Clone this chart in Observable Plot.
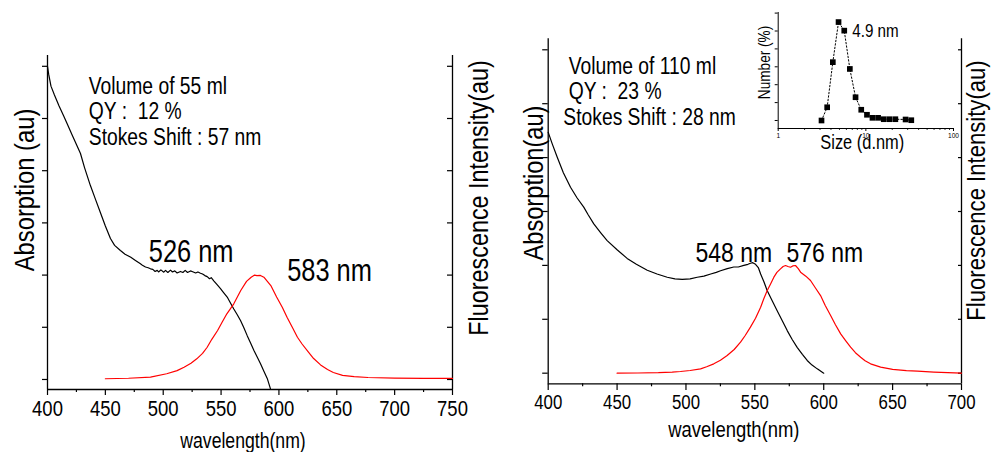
<!DOCTYPE html>
<html><head><meta charset="utf-8">
<script src="https://cdn.jsdelivr.net/npm/d3@7"></script>
<script src="https://cdn.jsdelivr.net/npm/@observablehq/plot@0.6"></script>
<style>
html,body{margin:0;padding:0;background:#fff;}
#chart{position:relative;width:991px;height:452px;overflow:hidden;background:#fff;}
#chart svg{position:absolute;overflow:visible;font-family:"Liberation Sans",Arial,sans-serif;}
#chart svg text{white-space:pre;}
</style></head><body><div id="chart"></div>
<script>
// ---------- data ----------
const wlTicksLeft = [400,450,500,550,600,650,700,750];
const wlMinorLeft = [425,475,525,575,625,675,725];
const wlTicksRight = [400,450,500,550,600,650,700];
const wlMinorRight = [425,475,525,575,625,675];
const absTicks = [0,0.1,0.2,0.3,0.4,0.5,0.6];
const fluTicks = [0,0.5,1,1.5,2,2.5,3];
const xTitle = "wavelength(nm)";
const absTitleLeft = "Absorption (au)";
const absTitleRight = "Absorption(au)";
const fluTitle = "Fluorescence Intensity(au)";
const notesLeft = ["Volume of 55 ml","QY :  12 %","Stokes Shift : 57 nm"];
const notesRight = [" Volume of 110 ml"," QY :  23 %","Stokes Shift : 28 nm"];
const peaksLeft = ["526 nm","583 nm"];
const peaksRight = ["548 nm","576 nm"];

// absorption, 55 ml  [wavelength nm, absorbance au]
const absLeft = [[400,0.600],[401,0.585],[403,0.562],[406,0.545],[410,0.524],[414,0.505],[417,0.490],[421,0.470],[425,0.450],[428.5,0.433],[432,0.406],[437,0.372],[441,0.348],[446,0.318],[450,0.294],[454.4,0.270],[458,0.257],[463,0.247],[467,0.240],[472,0.234],[476,0.228],[480,0.222],[482,0.219],[484.7,0.2155],[487,0.214],[489,0.212],[491,0.211],[493,0.207],[494.8,0.209],[496,0.206],[498,0.210],[500.5,0.2056],[502,0.209],[504,0.205],[506.3,0.2095],[508,0.206],[510,0.208],[512,0.204],[514.9,0.207],[517,0.205],[519,0.209],[521,0.205],[523.6,0.208],[526,0.206],[528,0.204],[530,0.206],[532.2,0.2036],[534,0.202],[536,0.199],[538,0.197],[540,0.193],[541.5,0.195],[543.7,0.189],[546,0.183],[549.5,0.174],[552,0.167],[555.3,0.158],[558,0.147],[561,0.135],[564,0.124],[566.8,0.113],[569.5,0.100],[572.6,0.084],[575.5,0.070],[578.3,0.056],[581,0.044],[584.1,0.030],[587,0.016],[589.9,0.002],[592.7,-0.018]];
// fluorescence, 55 ml  [wavelength nm, intensity au]
const fluLeft = [[450,0.007],[470,0.012],[489,0.022],[503,0.055],[512,0.085],[518,0.118],[524,0.155],[529,0.198],[534,0.25],[538,0.309],[542,0.385],[547,0.469],[551,0.55],[555,0.629],[561,0.725],[567,0.852],[572,0.94],[576,0.98],[579,1.0],[581,0.995],[584,0.997],[587,0.98],[590,0.94],[593,0.9],[598,0.79],[603,0.69],[607,0.597],[612,0.49],[616,0.405],[620,0.34],[625,0.27],[630,0.201],[636,0.14],[642,0.095],[647,0.067],[655,0.04],[665,0.027],[677,0.019],[700,0.014],[725,0.011],[750,0.01]];
// absorption, 110 ml
const absRight = [[400,0.447],[400.4,0.444],[403,0.425],[406.5,0.401],[411,0.372],[416.2,0.345],[421,0.325],[425.8,0.308],[429,0.294],[433.1,0.277],[438,0.261],[442.8,0.246],[450,0.229],[457.3,0.213],[464,0.202],[471.9,0.191],[479,0.184],[486.4,0.178],[492,0.175],[497.3,0.174],[503,0.175],[508.2,0.178],[513,0.180],[518,0.184],[522,0.187],[525.1,0.190],[530,0.194],[534.7,0.197],[538,0.197],[542,0.200],[545,0.202],[546.8,0.204],[548.5,0.205],[550.5,0.202],[552.5,0.196],[554.2,0.184],[556.5,0.170],[559,0.153],[562.5,0.135],[566.2,0.116],[570,0.097],[573.5,0.079],[577,0.063],[580.7,0.048],[584.5,0.035],[588,0.0236],[591.5,0.015],[595.3,0.008],[600,0.0]];
// fluorescence, 110 ml
const fluRight = [[450,0.0],[465,0.002],[480,0.005],[490,0.01],[496,0.016],[503,0.025],[510.6,0.04],[515,0.06],[520.2,0.087],[525,0.12],[529.9,0.164],[535,0.22],[539.6,0.288],[543,0.35],[546.8,0.427],[550.5,0.51],[554.2,0.612],[556.5,0.69],[559,0.767],[561.5,0.83],[563.8,0.891],[566,0.935],[568.6,0.968],[570.5,0.99],[572.3,0.999],[574,0.99],[575.9,0.983],[577.5,0.995],[579.5,0.999],[581.5,0.97],[583.2,0.937],[587,0.9],[590.4,0.86],[594,0.79],[597.7,0.72],[601,0.63],[605,0.535],[608.5,0.45],[612.3,0.365],[616,0.3],[619.5,0.241],[623,0.19],[626.8,0.148],[630,0.115],[634,0.087],[641.3,0.056],[650,0.035],[660,0.024],[668,0.019],[680,0.01],[690,0.005],[700,0.0]];
// inset: DLS size distribution
const dlsSize = [3.12,3.62,4.2,4.88,5.67,6.57,7.63,8.86,10.3,11.9,13.8,16.0,18.6,21.7,28.4,33.0];
const dlsNumber = [0,3.7,16.3,27.5,25.1,14.4,6.5,3.0,1.6,0.75,0.75,0.36,0.36,0.36,0.28,0.08];
const insetXTicks = [1,10,100];
const insetXMinor = [2,3,4,5,6,7,8,9,20,30,40,50,60,70,80,90];
const insetYTicks = [0,5,10,15,20,25,30];
const insetXTitle = "Size (d.nm)";
const insetYTitle = "Number (%)";
const insetPeak = "4.9 nm";

// ---------- drawing ----------
const FONT = '"Liberation Sans", Arial, sans-serif';
const chart = document.getElementById("chart");
const X = d => d[0], Y = d => d[1];
const baseStyle = {fontFamily: FONT, background: "transparent", overflow: "visible"};
function place(svg, left, top) {
  svg.style.position = "absolute"; svg.style.left = left + "px"; svg.style.top = top + "px";
  svg.style.maxWidth = "none";
  chart.appendChild(svg);
  return svg;
}

// Left panel
const LM = {width: 500, height: 452, marginLeft: 47, marginRight: 48, marginTop: 55, marginBottom: 63};
place(Plot.plot({
  ...LM, style: baseStyle,
  x: {domain: [400, 750], label: null},
  y: {domain: [-0.0192, 0.6207], label: null},
  marks: [
    Plot.axisX({ticks: wlTicksLeft, tickSize: 6, tickPadding: 5, fontSize: 22.5, label: null, strokeWidth: 1.2}),
    Plot.axisX({ticks: wlMinorLeft, tickSize: 3, tickFormat: () => "", label: null, strokeWidth: 1.2}),
    Plot.axisY({ticks: absTicks, tickSize: 5, tickFormat: () => "", label: null, strokeWidth: 1.2}),
    Plot.ruleX([400], {strokeWidth: 1.3}),
    Plot.ruleY([-0.0192], {strokeWidth: 1.3}),
    Plot.line(absLeft, {x: X, y: Y, stroke: "black", strokeWidth: 1.2}),
    Plot.text([notesLeft.join("\n")], {x: 435.7, y: 0.5824, textAnchor: "start", lineAnchor: "top", lineHeight: 1.09, fontSize: 23.5}),
    Plot.text([peaksLeft[0]], {x: 487.5, y: 0.2247, textAnchor: "start", lineAnchor: "bottom", fontSize: 31}),
    Plot.text([peaksLeft[1]], {x: 607.1, y: 0.1883, textAnchor: "start", lineAnchor: "bottom", fontSize: 31}),
    Plot.text([xTitle], {frameAnchor: "bottom", textAnchor: "middle", lineAnchor: "bottom", dx: -7, dy: 58.4, fontSize: 21.5}),
    Plot.text([absTitleLeft], {frameAnchor: "left", textAnchor: "middle", rotate: -90, dx: -22.5, dy: -32.5, fontSize: 28})
  ]
}), 0, 0);
place(Plot.plot({
  ...LM, style: baseStyle,
  x: {domain: [400, 750], axis: null},
  y: {domain: [-0.0958, 3.1034], axis: null},
  marks: [
    Plot.axisY({anchor: "right", ticks: fluTicks, tickSize: -6, tickFormat: () => "", label: null, strokeWidth: 1.2}),
    Plot.ruleX([750], {strokeWidth: 1.3}),
    Plot.line(fluLeft, {x: X, y: Y, stroke: "#ff0000", strokeWidth: 1.2}),
    Plot.text([fluTitle], {frameAnchor: "right", textAnchor: "middle", rotate: -90, dx: 26.3, dy: -24.5, fontSize: 27.5})
  ]
}), 0, 0);

// Right panel
const RM = {width: 491, height: 452, marginLeft: 47.7, marginRight: 30, marginTop: 38.3, marginBottom: 68.7};
place(Plot.plot({
  ...RM, style: baseStyle,
  x: {domain: [400, 700], label: null},
  y: {domain: [-0.0197, 0.6204], label: null},
  marks: [
    Plot.axisX({ticks: wlTicksRight, tickSize: 6.7, tickPadding: 4, fontSize: 20.5, label: null, strokeWidth: 1.2}),
    Plot.axisX({ticks: wlMinorRight, tickSize: 3, tickFormat: () => "", label: null, strokeWidth: 1.2}),
    Plot.axisY({ticks: absTicks, tickSize: 5.5, tickFormat: () => "", label: null, strokeWidth: 1.2}),
    Plot.ruleX([400], {strokeWidth: 1.3}),
    Plot.ruleY([-0.0197], {strokeWidth: 1.3}),
    Plot.line(absRight, {x: X, y: Y, stroke: "black", strokeWidth: 1.2}),
    Plot.text([notesRight.join("\n")], {x: 411.0, y: 0.5894, textAnchor: "start", lineAnchor: "top", lineHeight: 1.085, fontSize: 23.5}),
    Plot.text([peaksRight[0]], {x: 506.9, y: 0.206, textAnchor: "start", lineAnchor: "bottom", fontSize: 28}),
    Plot.text([peaksRight[1]], {x: 573, y: 0.206, textAnchor: "start", lineAnchor: "bottom", fontSize: 28}),
    Plot.text([xTitle], {frameAnchor: "bottom", textAnchor: "middle", lineAnchor: "bottom", dx: -21, dy: 53.1, fontSize: 22.5}),
    Plot.text([absTitleRight], {frameAnchor: "left", textAnchor: "middle", rotate: -90, dx: -14.6, dy: -28.3, fontSize: 27.8})
  ]
}), 500, 0);
place(Plot.plot({
  ...RM, style: baseStyle,
  x: {domain: [400, 700], axis: null},
  y: {domain: [-0.0983, 3.102], axis: null},
  marks: [
    Plot.axisY({anchor: "right", ticks: fluTicks, tickSize: -4, tickFormat: () => "", label: null, strokeWidth: 1.2}),
    Plot.ruleX([700], {strokeWidth: 1.3}),
    Plot.line(fluRight, {x: X, y: Y, stroke: "#ff0000", strokeWidth: 1.2}),
    Plot.text([fluTitle], {frameAnchor: "right", textAnchor: "middle", rotate: -90, dx: 15, dy: -20.8, fontSize: 26})
  ]
}), 500, 0);

// Inset
const dls = dlsSize.map((s, i) => [s, dlsNumber[i]]);
place(Plot.plot({
  width: 251, height: 160, marginLeft: 37.7, marginRight: 38, marginTop: 12, marginBottom: 32,
  style: baseStyle,
  x: {type: "log", domain: [1, 100], label: null},
  y: {domain: [-2.235, 30.17], label: null},
  marks: [
    Plot.axisX({ticks: insetXTicks, tickSize: 3, tickPadding: 1, fontSize: 8, tickFormat: d => String(d), label: null}),
    Plot.axisX({ticks: insetXMinor, tickSize: 1.8, tickFormat: () => "", label: null}),
    Plot.axisY({ticks: insetYTicks, tickSize: 3, tickFormat: () => "", label: null}),
    Plot.ruleX([1], {strokeWidth: 1}),
    Plot.ruleY([-2.235], {strokeWidth: 1}),
    Plot.line(dls, {x: X, y: Y, stroke: "black", strokeWidth: 1, strokeDasharray: "1.5,2"}),
    Plot.dot(dls, {x: X, y: Y, symbol: "square", fill: "black", r: 3.2}),
    Plot.text([insetPeak], {x: 7.0, y: 24.9, textAnchor: "start", lineAnchor: "middle", fontSize: 18.5}),
    Plot.text([insetXTitle], {frameAnchor: "bottom", textAnchor: "middle", lineAnchor: "bottom", dx: -3.6, dy: 20, fontSize: 20}),
    Plot.text([insetYTitle], {frameAnchor: "left", textAnchor: "middle", rotate: -90, dx: -13.1, dy: -8, fontSize: 16})
  ]
}), 740, 0);

// narrow (condensed) lettering, as in the original figure
chart.querySelectorAll("svg text").forEach(t => {
  const tr = (t.getAttribute("transform") || "") + (t.parentNode.getAttribute("transform") || "");
  const k = /rotate/.test(tr) ? 0.85 : 0.82;
  const spans = t.querySelectorAll("tspan");
  const targets = spans.length ? Array.from(spans) : [t];
  targets.forEach(el => {
    const L = el.getComputedTextLength();
    if (L > 0) { el.setAttribute("textLength", (L * k).toFixed(2)); el.setAttribute("lengthAdjust", "spacingAndGlyphs"); }
  });
});
</script></body></html>
